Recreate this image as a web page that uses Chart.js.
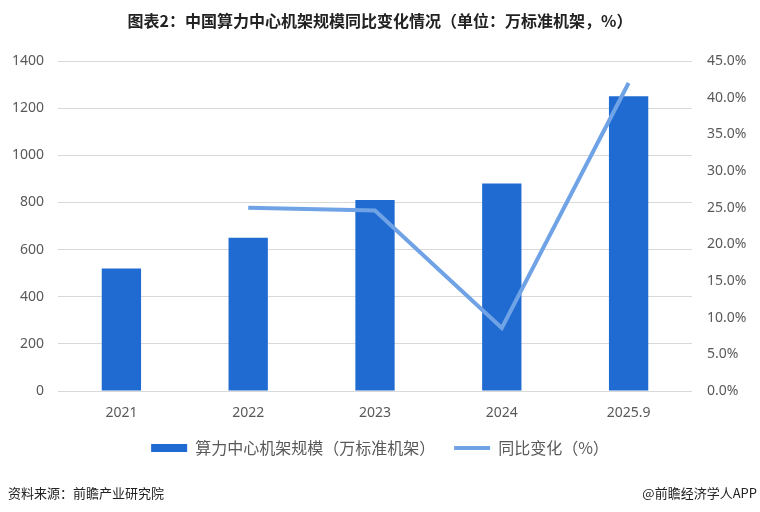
<!DOCTYPE html>
<html>
<head>
<meta charset="utf-8">
<script src="https://cdn.jsdelivr.net/npm/chart.js@4"></script>
<style>
  html, body { margin: 0; padding: 0; background: #fff; }
  #wrap { position: relative; width: 760px; height: 512px; }
  #chart { position: absolute; left: 0; top: 0; }
  .title {
    position: absolute; left: 0; top: 8px; width: 760px; text-align: center;
    font: bold 16px "Noto Sans CJK SC", sans-serif; color: #222;
  }
  .src {
    position: absolute; top: 483px; font: 13px "Noto Sans CJK SC", sans-serif; color: #222;
  }
</style>
</head>
<body>
<div id="wrap">
  <canvas id="chart" width="760" height="512"></canvas>
  <div class="title">图表2：中国算力中心机架规模同比变化情况（单位：万标准机架，%）</div>
  <div class="src" style="left:8px">资料来源：前瞻产业研究院</div>
  <div class="src" style="right:3px">@前瞻经济学人APP</div>
</div>
<script>
const years = ['2021', '2022', '2023', '2024', '2025.9'];
const racks = [520, 650, 810, 880, 1250];
const growth = [null, 25.0, 24.6, 8.6, 42.0];

const barColor = '#1f6bd1';
const lineColor = '#70a3e6';
const tickFont = { family: '"Noto Sans", sans-serif', size: 14 };

new Chart(document.getElementById('chart').getContext('2d'), {
    data: {
        labels: years,
        datasets: [{
            type: 'line',
            label: '同比变化（%）',
            data: growth,
            yAxisID: 'y1',
            borderColor: lineColor,
            backgroundColor: lineColor,
            borderWidth: 4,
            pointRadius: 0,
            pointStyle: 'line',
            tension: 0,
            order: 0
        }, {
            type: 'bar',
            label: '算力中心机架规模（万标准机架）',
            data: racks,
            yAxisID: 'y',
            backgroundColor: barColor,
            borderWidth: 0,
            pointStyle: 'rect',
            categoryPercentage: 1,
            barPercentage: 0.31,
            order: 1
        }]
    },
    options: {
        responsive: false,
        animation: false,
        layout: { padding: { top: 61, left: 0, right: 0, bottom: 46 } },
        plugins: {
            tooltip: { enabled: false },
            legend: {
                position: 'bottom',
                reverse: true,
                labels: {
                    usePointStyle: true,
                    pointStyleWidth: 36,
                    boxWidth: 36,
                    boxHeight: 8,
                    padding: 19,
                    color: '#595959',
                    font: { family: '"Noto Sans CJK SC", sans-serif', size: 16 }
                }
            }
        },
        scales: {
            x: {
                grid: { display: false },
                border: { display: false },
                ticks: { color: '#595959', font: tickFont, padding: 6 },
                afterFit: s => { s.height = 30; }
            },
            y: {
                position: 'left',
                min: 0,
                max: 1400,
                ticks: {
                    stepSize: 200,
                    color: '#595959',
                    font: tickFont,
                    padding: 14,
                    callback: v => String(v)
                },
                grid: { color: '#d9d9d9', lineWidth: 1, drawTicks: false },
                border: { display: false },
                afterFit: s => { s.width = 58; }
            },
            y1: {
                position: 'right',
                min: 0,
                max: 45,
                ticks: {
                    stepSize: 5,
                    color: '#595959',
                    font: tickFont,
                    padding: 15,
                    callback: v => v.toFixed(1) + '%'
                },
                grid: { display: false, drawTicks: false },
                border: { display: false },
                afterFit: s => { s.width = 68; }
            }
        }
    }
});
</script>
</body>
</html>
